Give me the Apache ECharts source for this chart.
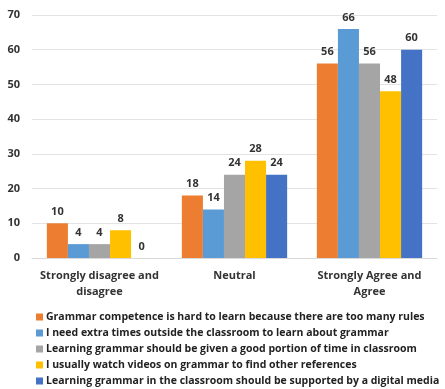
<!DOCTYPE html>
<html>
<head>
<meta charset="utf-8">
<script src="https://cdn.jsdelivr.net/npm/echarts@6/dist/echarts.min.js"></script>
<style>
  html, body { margin: 0; padding: 0; background: #fff; }
  #chart { width: 445px; height: 389px; }
</style>
</head>
<body>
<div id="chart"></div>
<script>
var chart = echarts.init(document.getElementById('chart'), null, { renderer: 'canvas' });

var categories = ['Strongly disagree and\ndisagree', 'Neutral', 'Strongly Agree and\nAgree'];
var seriesNames = [
    'Grammar competence is hard to learn because there are too many rules',
    'I need extra times outside the classroom to learn about grammar',
    'Learning grammar should be given a good portion of time in classroom',
    'I usually watch videos on grammar to find other references',
    'Learning grammar in the classroom should be supported by a digital media'
]
var hardRules = [10, 18, 56]
var extraTimes = [4, 14, 66]
var goodPortion = [4, 24, 56]
var watchVideos = [8, 28, 48]
var digitalMedia = [0, 24, 60]
var yTicks = [0, 10, 20, 30, 40, 50, 60, 70]

var colors = ['#ED7D31', '#5B9BD5', '#A5A5A5', '#FFC000', '#4472C4']
var allValues = [hardRules, extraTimes, goodPortion, watchVideos, digitalMedia]

var fontFamily = '"Open Sans", "DejaVu Sans", sans-serif'

var series = []
for (var i = 0; i < allValues.length; i++) {
    series.push({
        name: seriesNames[i],
        type: 'bar',
        data: allValues[i],
        barGap: '0%',
        barCategoryGap: '22%',
        itemStyle: { color: colors[i] },
        label: {
            show: true,
            position: 'top',
            distance: 6,
            color: '#333',
            fontWeight: 'bold',
            fontSize: 11,
            fontFamily: fontFamily
        }
    })
}

chart.setOption({
    animation: false,
    color: colors,
    grid: {
        left: 32,
        right: 8,
        top: 15,
        bottom: 131
    },
    legend: {
        orient: 'vertical',
        left: 36,
        top: 310,
        height: 85,
        padding: 0,
        itemWidth: 7,
        itemHeight: 7,
        itemGap: 2,
        icon: 'rect',
        data: seriesNames,
        textStyle: {
            color: '#222',
            fontWeight: 'bold',
            fontSize: 10.5,
            lineHeight: 14,
            fontFamily: fontFamily,
            padding: [0, 0, 0, -2]
        }
    },
    xAxis: {
        type: 'category',
        data: categories,
        axisLine: { lineStyle: { color: '#d9d9d9' } },
        axisTick: { show: false },
        axisLabel: {
            interval: 0,
            color: '#333',
            fontWeight: 'bold',
            fontSize: 11,
            fontFamily: fontFamily,
            lineHeight: 16,
            margin: 10
        }
    },
    yAxis: {
        type: 'value',
        min: yTicks[0],
        max: yTicks[yTicks.length - 1],
        interval: 10,
        axisLine: { show: false },
        axisTick: { show: false },
        splitLine: { lineStyle: { color: '#e3e3e3' } },
        axisLabel: {
            color: '#333',
            fontWeight: 'bold',
            fontSize: 11,
            fontFamily: fontFamily,
            margin: 12
        }
    },
    series: series
})
</script>
</body>
</html>
